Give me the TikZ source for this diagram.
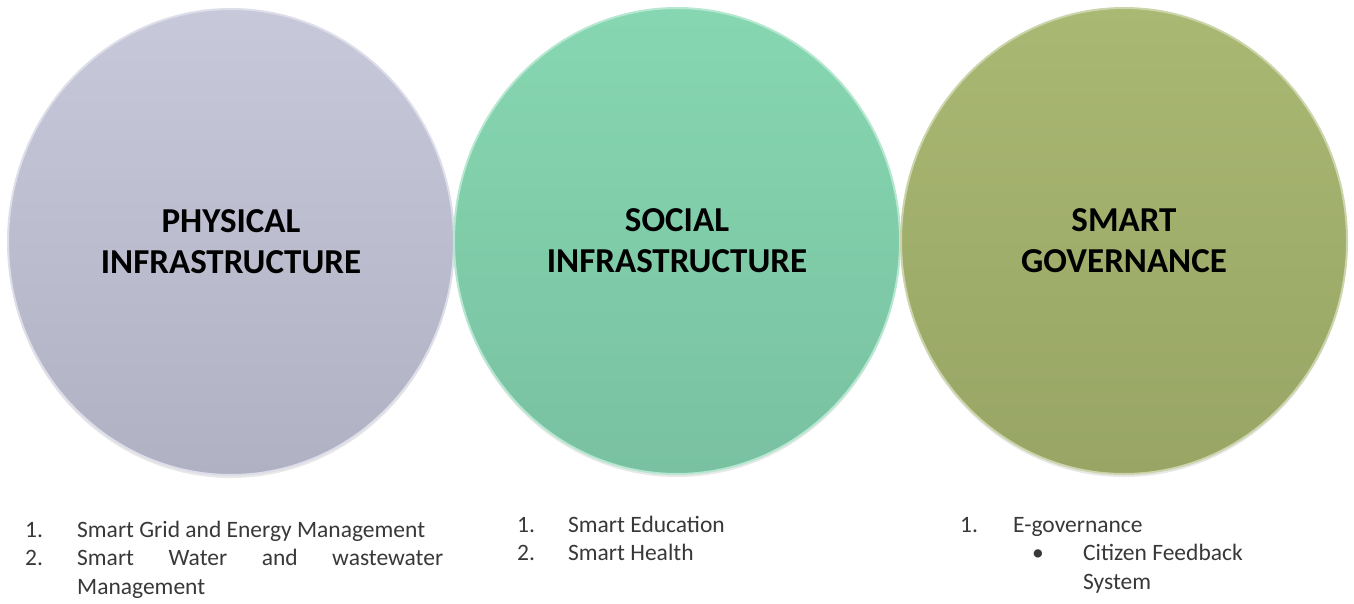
\documentclass[tikz,border=0pt]{standalone}
\usepackage{fontspec}
\setmainfont{Carlito}
\usepackage{tikz}
\usetikzlibrary{shapes.geometric, shadows}

\definecolor{physTop}{HTML}{C7C8DA}
\definecolor{physBot}{HTML}{B0B1C2}
\definecolor{socTop}{HTML}{86D7B1}
\definecolor{socBot}{HTML}{79C1A1}
\definecolor{govTop}{HTML}{A9B872}
\definecolor{govBot}{HTML}{98A565}

\tikzset{
  bubble/.style={ellipse, minimum width=446pt, minimum height=466pt, inner sep=0pt,
    line width=2pt, align=center,
    font=\bfseries\fontsize{35}{41}\selectfont,
    drop shadow={shadow xshift=0pt, shadow yshift=-3pt, opacity=0.18}},
  listtext/.style={anchor=base west, inner sep=0pt, text=black!78,
    font=\fontsize{23.5}{28.5}\selectfont}
}

\begin{document}
\begin{tikzpicture}[x=1pt, y=-1pt]
\useasboundingbox (0,0) rectangle (1354,603);

% Circles
\node[bubble, top color=physTop, bottom color=physBot, draw=physTop!60!white] (phys) at (231,242) {PHYSICAL\\INFRASTRUCTURE};
\node[bubble, top color=socTop, bottom color=socBot, draw=socTop!60!white] (soc) at (677,241) {SOCIAL\\INFRASTRUCTURE};
\node[bubble, top color=govTop, bottom color=govBot, draw=govTop!60!white] (gov) at (1124,241) {SMART\\GOVERNANCE};

% Lists
\node[listtext] (physlist) at (25,537) {\begin{tabular}[t]{@{}p{52pt}@{}l@{}}
1. & Smart Grid and Energy Management\\
2. & \makebox[366pt][s]{Smart Water and wastewater}\\
   & Management
\end{tabular}};
\node[listtext] (soclist) at (517,532) {\begin{tabular}[t]{@{}p{51pt}@{}l@{}}
1. & Smart Education\\
2. & Smart Health
\end{tabular}};
\node[listtext] (govlist) at (960,532) {\begin{tabular}[t]{@{}p{53pt}@{}l@{}}
1. & E-governance\\
   & \hspace*{19pt}\makebox[51pt][l]{\textbullet}Citizen Feedback\\
   & \hspace*{70pt}System
\end{tabular}};

\end{tikzpicture}
\end{document}
